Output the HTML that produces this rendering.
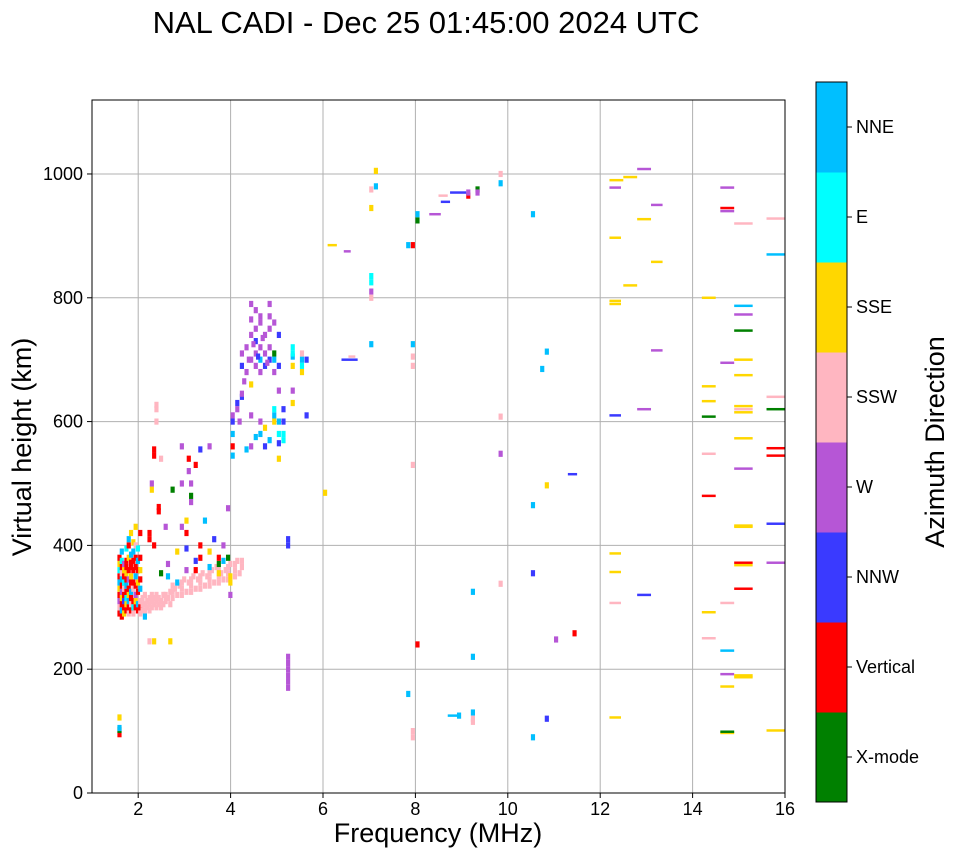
<!DOCTYPE html>
<html><head><meta charset="utf-8"><title>NAL CADI ionogram</title>
<style>
body{margin:0;background:#fff;font-family:"Liberation Sans",sans-serif}
svg text{font-family:"Liberation Sans",sans-serif;fill:#000}
</style></head>
<body>
<svg id="chart" width="958" height="857" xmlns="http://www.w3.org/2000/svg">
<text x="426" y="33" font-size="31" text-anchor="middle">NAL CADI - Dec 25 01:45:00 2024 UTC</text>
<g id="grid"></g>
<g id="marks"></g>
<rect x="92" y="100" width="693" height="693" fill="none" stroke="#000" stroke-width="1"/>
<g id="axes"></g>
<text x="438" y="842" font-size="27" text-anchor="middle">Frequency (MHz)</text>
<text transform="translate(31,447) rotate(-90)" font-size="27" text-anchor="middle">Virtual height (km)</text>
<g id="cbar"></g>
<text transform="translate(944,442) rotate(-90)" font-size="27" text-anchor="middle">Azimuth Direction</text>
</svg>
<script>
const dirNames=["X-mode","Vertical","NNW","W","SSW","SSE","E","NNE"];
const dirColors=["#008000","#ff0000","#3a3aff","#b656d6","#ffb6c1","#ffd700","#00ffff","#00bfff"];
const xTicks=[2,4,6,8,10,12,14,16];
const yTicks=[0,200,400,600,800,1000];
// cells: [freq MHz, height km, direction index]
const cells=[
[1.55,95,1],[1.55,102,0],[1.55,105,7],[1.55,122,5],
[1.55,290,1],[1.55,300,4],[1.55,310,3],[1.55,320,1],[1.55,330,5],[1.55,340,7],[1.55,350,1],[1.55,360,6],[1.55,370,5],[1.55,380,1],
[1.6,285,1],[1.6,295,7],[1.6,305,1],[1.6,315,5],[1.6,325,3],[1.6,335,1],[1.6,345,7],[1.6,355,4],[1.6,365,1],[1.6,375,6],[1.6,390,7],
[1.65,290,5],[1.65,300,1],[1.65,310,2],[1.65,320,1],[1.65,330,4],[1.65,340,6],[1.65,350,1],[1.65,360,5],[1.65,370,3],
[1.7,295,1],[1.7,305,5],[1.7,315,6],[1.7,325,1],[1.7,335,7],[1.7,345,1],[1.7,355,5],[1.7,365,1],[1.7,375,1],[1.7,395,6],
[1.75,290,4],[1.75,300,1],[1.75,310,7],[1.75,320,5],[1.75,330,1],[1.75,345,3],[1.75,360,1],[1.75,380,5],[1.75,400,1],[1.75,410,7],
[1.8,295,1],[1.8,305,4],[1.8,315,1],[1.8,325,7],[1.8,340,1],[1.8,350,5],[1.8,365,1],[1.8,372,1],[1.8,385,7],[1.8,420,5],
[1.85,290,4],[1.85,300,6],[1.85,310,1],[1.85,330,4],[1.85,340,1],[1.85,360,1],[1.85,375,1],[1.85,390,7],[1.85,405,5],
[1.9,300,1],[1.9,310,5],[1.9,320,3],[1.9,335,1],[1.9,350,7],[1.9,365,1],[1.9,380,1],[1.9,400,4],[1.9,430,5],
[1.95,295,1],[1.95,305,7],[1.95,325,1],[1.95,340,5],[1.95,360,1],[1.95,375,7],[1.95,395,6],
[2.0,290,4],[2.0,300,1],[2.0,310,4],[2.0,330,7],[2.0,345,1],[2.0,360,5],[2.0,380,1],[2.0,420,1],
[2.05,295,4],[2.05,305,4],[2.05,315,4],[2.1,295,4],[2.1,305,4],[2.1,285,7],[2.1,320,4],[2.15,300,4],[2.15,310,4],[2.2,295,4],[2.2,305,4],[2.2,315,4],
[2.25,300,4],[2.25,310,4],[2.3,305,4],[2.3,315,4],[2.35,300,4],[2.35,310,4],[2.4,305,4],[2.4,315,4],[2.45,310,4],[2.5,305,4],[2.5,320,4],[2.55,310,4],[2.6,315,4],
[2.25,320,4],[2.35,320,4],[2.45,300,4],[2.55,320,4],[2.65,305,4],[2.65,325,4],[2.75,330,4],[2.85,335,4],[2.95,345,4],[3.05,340,4],[3.15,350,4],[3.25,345,4],[3.35,355,4],[3.45,350,4],[3.55,360,4],[3.65,365,4],[3.75,355,4],[3.85,360,4],[3.95,370,4],[4.1,375,4],
[2.2,410,1],[2.2,420,1],[2.3,400,1],[2.3,545,1],[2.3,555,1],[2.35,620,4],[2.35,627,4],[2.35,600,4],[2.4,455,1],[2.4,462,1],[2.45,540,4],[2.25,490,5],[2.25,500,3],[2.3,245,5],[2.2,245,4],[2.65,245,5],
[2.7,315,4],[2.7,325,4],[2.7,335,4],[2.8,320,4],[2.9,320,4],[2.9,330,4],[2.9,340,4],[3.0,325,4],[3.1,325,4],[3.1,335,4],[3.1,345,4],[3.2,330,4],[3.3,330,4],[3.3,340,4],[3.3,350,4],
[3.4,335,4],[3.5,335,4],[3.5,345,4],[3.5,355,4],[3.6,340,4],[3.7,340,4],[3.7,350,4],[3.7,360,4],[3.8,345,4],[3.9,345,4],[3.9,355,4],[3.9,365,4],[4.05,350,4],[4.05,360,4],[4.05,370,4],[4.15,355,4],[4.2,365,4],[4.2,375,4],
[2.6,350,7],[2.6,370,3],[2.8,340,7],[2.8,390,5],[3.0,360,3],[3.0,395,2],[3.0,420,1],[3.0,440,5],[3.1,470,3],[3.1,480,0],[3.1,500,3],[3.2,360,1],[3.2,375,2],[3.2,530,1],
[3.3,380,1],[3.3,400,1],[3.3,555,2],[3.5,365,7],[3.5,390,5],[3.5,560,3],[3.7,370,0],[3.7,380,1],[3.7,355,5],[3.8,375,7],[3.8,400,3],[3.9,380,0],[3.9,460,3],[3.95,320,3],[3.95,350,5],[3.95,340,5],
[2.9,430,3],[2.9,500,3],[2.9,560,3],[3.05,520,3],[3.05,540,1],[2.7,490,0],[2.55,430,3],[3.4,440,7],[3.6,410,2],[2.45,355,0],
[4.0,545,7],[4.0,560,1],[4.0,580,7],[4.0,600,2],[4.0,610,3],[4.1,620,3],[4.1,630,2],[4.2,640,2],[4.2,690,2],[4.2,710,3],[4.2,645,3],
[4.3,680,3],[4.3,720,3],[4.3,555,7],[4.4,700,3],[4.4,740,3],[4.4,765,3],[4.4,790,3],[4.4,660,5],[4.4,610,3],[4.4,560,3],
[4.5,690,3],[4.5,710,3],[4.5,730,2],[4.5,750,3],[4.5,780,3],[4.5,575,7],[4.6,680,3],[4.6,700,7],[4.6,720,3],[4.6,760,3],[4.6,770,3],[4.6,600,3],[4.6,580,7],
[4.7,690,2],[4.7,710,3],[4.7,740,3],[4.7,590,5],[4.7,560,2],[4.8,700,2],[4.8,720,3],[4.8,750,3],[4.8,770,3],[4.8,790,3],[4.8,570,7],
[4.9,680,3],[4.9,700,7],[4.9,710,0],[4.9,760,3],[4.9,600,5],[4.9,610,7],[4.9,620,6],[5.0,690,2],[5.0,740,2],[5.0,650,3],[5.0,565,2],[5.0,580,6],[5.0,600,7],[5.0,540,5],
[5.1,600,2],[5.1,620,2],[5.1,580,6],[5.1,570,6],[5.2,400,2],[5.2,410,2],[5.2,220,3],[5.2,210,3],[5.2,200,3],[5.2,190,3],[5.2,180,3],[5.2,170,3],
[5.3,690,5],[5.3,705,7],[5.3,720,6],[5.3,710,6],[5.3,630,5],[5.3,650,3],[5.5,690,6],[5.5,700,7],[5.5,680,5],[5.5,710,4],[5.6,610,2],[5.6,700,2],
[4.35,700,3],[4.45,725,3],[4.55,705,2],[4.65,735,3],[4.75,695,3],[4.25,665,3],[4.15,600,3],
[6.0,485,5],[7.0,945,5],[7.0,835,6],[7.0,825,6],[7.0,810,3],[7.0,800,4],[7.0,725,7],[7.1,1005,5],[7.1,980,7],[7.0,975,4],
[7.8,885,7],[7.8,160,7],[7.9,885,1],[7.9,725,7],[7.9,705,4],[7.9,690,4],[7.9,530,4],[7.9,100,4],[7.9,90,4],[8.0,925,0],[8.0,935,7],[8.0,240,1],
[9.1,965,1],[9.1,970,3],[9.3,975,0],[9.3,970,3],[9.8,985,7],[9.8,1000,4],[9.2,325,7],[9.2,220,7],[9.2,130,7],[9.2,120,4],[9.2,115,4],[8.9,125,7],
[9.8,608,4],[9.8,548,3],[9.8,338,4],[10.5,935,7],[10.5,465,7],[10.5,355,2],[10.5,90,7],[10.7,685,7],[10.8,713,7],[10.8,497,5],[10.8,120,2],[11.0,248,3],[11.4,258,1]
];
// dashes: [start freq, end freq, height km, direction index]
const dashes=[
[6.1,6.3,885,5],[6.4,6.75,700,2],[6.45,6.6,875,3],[6.55,6.7,705,4],[8.3,8.55,935,3],[8.5,8.7,965,4],[8.55,8.75,955,2],[8.75,9.1,970,2],[8.7,8.95,125,7],[11.3,11.5,515,2],
[12.2,12.5,990,5],[12.2,12.45,978,3],[12.2,12.45,897,5],[12.2,12.45,795,5],[12.2,12.45,790,5],[12.2,12.45,610,2],[12.2,12.45,387,5],[12.2,12.45,357,5],[12.2,12.45,307,4],[12.2,12.45,122,5],
[12.5,12.8,995,5],[12.5,12.8,820,5],[12.8,13.1,1008,3],[12.8,13.1,927,5],[12.8,13.1,620,3],[12.8,13.1,320,2],[13.1,13.35,950,3],[13.1,13.35,858,5],[13.1,13.35,715,3],
[14.2,14.5,800,5],[14.2,14.5,657,5],[14.2,14.5,633,5],[14.2,14.5,608,0],[14.2,14.5,548,4],[14.2,14.5,480,1],[14.2,14.5,292,5],[14.2,14.5,250,4],
[14.6,14.9,978,3],[14.6,14.9,945,1],[14.6,14.9,940,3],[14.6,14.9,695,3],[14.6,14.9,307,4],[14.6,14.9,230,7],[14.6,14.9,192,3],[14.6,14.9,172,5],[14.6,14.9,97,5],[14.6,14.9,99,0],
[14.9,15.3,920,4],[14.9,15.3,787,7],[14.9,15.3,773,3],[14.9,15.3,747,0],[14.9,15.3,700,5],[14.9,15.3,675,5],[14.9,15.3,625,5],[14.9,15.3,620,4],[14.9,15.3,615,5],[14.9,15.3,573,5],[14.9,15.3,524,3],[14.9,15.3,432,5],[14.9,15.3,430,5],[14.9,15.3,372,1],[14.9,15.3,368,5],[14.9,15.3,330,1],[14.9,15.3,190,5],[14.9,15.3,187,5],
[15.6,16,928,4],[15.6,16,870,7],[15.6,16,640,4],[15.6,16,620,0],[15.6,16,557,1],[15.6,16,545,1],[15.6,16,435,2],[15.6,16,372,3],[15.6,16,101,5]
];
const X0=92,X1=785,Y0=793,Y1=100,FMIN=1,FMAX=16,HMIN=0,HMAX=1119.5;
const sx=f=>X0+(f-FMIN)/(FMAX-FMIN)*(X1-X0);
const sy=h=>Y0-(h-HMIN)/(HMAX-HMIN)*(Y0-Y1);
const NS="http://www.w3.org/2000/svg";
function mk(tag,attrs,parent){const e=document.createElementNS(NS,tag);for(const k in attrs)e.setAttribute(k,attrs[k]);parent.appendChild(e);return e;}
const grid=document.getElementById('grid'),axes=document.getElementById('axes'),marks=document.getElementById('marks'),cbar=document.getElementById('cbar');
xTicks.forEach(t=>{const x=sx(t);
 const g=mk('line',{x1:x,x2:x,y1:Y1,y2:Y0,stroke:'#b0b0b0','stroke-width':1},grid);
 
 
 mk('line',{x1:x,x2:x,y1:Y0,y2:Y0+5,stroke:'#000'},axes);
 const tx=mk('text',{x:x,y:Y0+22,'font-size':18,'text-anchor':'middle'},axes);tx.textContent=t;
 
 
});
yTicks.forEach(t=>{const y=sy(t);
 const g=mk('line',{x1:X0,x2:X1,y1:y,y2:y,stroke:'#b0b0b0','stroke-width':1},grid);
 
 
 mk('line',{x1:X0-5,x2:X0,y1:y,y2:y,stroke:'#000'},axes);
 const tx=mk('text',{x:X0-9,y:y+6,'font-size':18,'text-anchor':'end'},axes);tx.textContent=t;
 
 
});
cells.forEach(c=>{const x=sx(c[0]),y=sy(c[1]+5);
 const r=mk('rect',{x:x,y:y,width:sx(c[0]+0.09)-x,height:sy(c[1]-5)-y,fill:dirColors[c[2]]},marks);
 
 
});
dashes.forEach(d=>{const x=sx(d[0]),y=sy(d[2]+2);
 const r=mk('rect',{x:x,y:y,width:sx(d[1])-x,height:sy(d[2]-2)-y,fill:dirColors[d[3]]},marks);
 
 
});
const CB_X=816,CB_W=31,CB_TOP=82,CB_BOT=802,bh=(CB_BOT-CB_TOP)/dirNames.length;
dirNames.forEach((n,i)=>{const y=CB_BOT-(i+1)*bh;
 const r=mk('rect',{x:CB_X,y:y,width:CB_W,height:bh+0.5,fill:dirColors[i]},cbar);
 
 
 mk('line',{x1:CB_X+CB_W,x2:CB_X+CB_W+5,y1:y+bh/2,y2:y+bh/2,stroke:'#000'},cbar);
 const tx=mk('text',{x:CB_X+CB_W+9,y:y+bh/2+6,'font-size':18},cbar);tx.textContent=n;
 
 
});
mk('rect',{x:CB_X,y:CB_TOP,width:CB_W,height:CB_BOT-CB_TOP,fill:'none',stroke:'#000'},cbar);
</script>
</body></html>
